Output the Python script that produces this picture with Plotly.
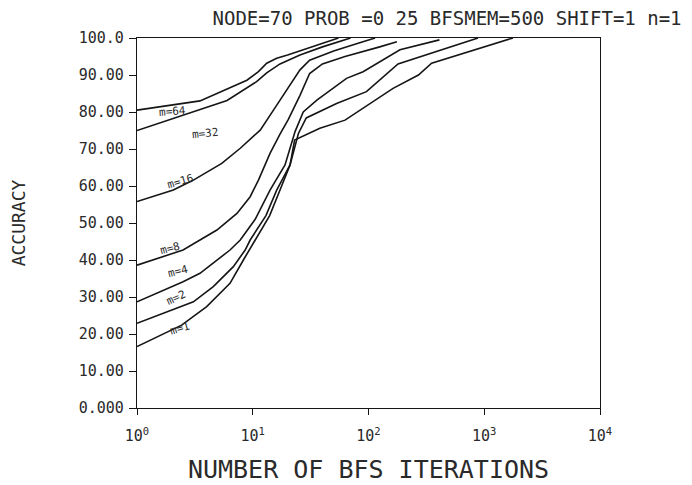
import plotly.graph_objects as go

# ---- data ----
n64 = [1, 3.5, 8.9, 11.2, 13.2, 16.1, 20, 30, 42, 55]
v64 = [80.5, 83.0, 88.6, 90.9, 93.2, 94.5, 95.4, 97.2, 98.8, 100]

n32 = [1, 6.0, 10.8, 13.2, 17.2, 25.6, 40, 70]
v32 = [75.0, 83.1, 88.2, 90.6, 93.0, 95.4, 97.6, 100]

n16 = [1, 2.06, 3.07, 5.4, 7.8, 11.6, 15.1, 19.7, 25.6, 31, 50, 80, 114]
v16 = [55.8, 58.9, 61.6, 66.1, 70.2, 75.1, 80.5, 85.9, 91.4, 94.0, 96.5, 98.5, 100]

n8 = [1, 2.5, 3.5, 4.9, 7.3, 9.5, 11.2, 14.1, 17.2, 20.3, 25.6, 31, 40, 62.7, 125, 176]
v8 = [38.6, 42.7, 45.4, 48.1, 52.6, 57.1, 61.6, 68.8, 74.0, 78.0, 84.5, 90.4, 93.0, 95.0, 97.6, 99.0]

n4 = [1, 2.5, 3.5, 6.36, 7.8, 10.5, 14.1, 19, 23.2, 27.3, 35.8, 64.6, 89.8, 187, 410]
v4 = [28.7, 34.1, 36.4, 42.7, 45.4, 51.0, 58.9, 65.7, 74.7, 80.0, 83.2, 89.1, 90.9, 96.8, 99.5]

n2 = [1, 3.07, 4.56, 6.8, 8.6, 9.5, 13, 16.1, 21, 24.8, 29, 53, 96, 180, 883]
v2 = [22.9, 28.7, 32.8, 38.2, 42.7, 45.4, 52.0, 58.9, 65.7, 74.2, 78.4, 82.3, 85.5, 93.0, 100]

n1 = [1, 2.43, 4.0, 6.36, 8.3, 10.5, 14, 17.2, 21, 23, 38, 62.7, 125, 163, 270, 351, 1770]
v1 = [16.6, 22.4, 27.4, 33.7, 40.0, 45.4, 52.0, 58.9, 65.7, 72.4, 75.6, 77.8, 84.1, 86.4, 90.0, 93.2, 100]

series_names = ["m=64", "m=32", "m=16", "m=8", "m=4", "m=2", "m=1"]
series_x = [n64, n32, n16, n8, n4, n2, n1]
series_y = [v64, v32, v16, v8, v4, v2, v1]

y_tickvals = [0, 10, 20, 30, 40, 50, 60, 70, 80, 90, 100]
y_ticktext = ["0.000", "10.00", "20.00", "30.00", "40.00", "50.00",
              "60.00", "70.00", "80.00", "90.00", "100.0"]
x_tickvals = [1, 10, 100, 1000, 10000]
x_ticktext = ["10<sup>0</sup>", "10<sup>1</sup>", "10<sup>2</sup>",
              "10<sup>3</sup>", "10<sup>4</sup>"]

title_text = "NODE=70 PROB =0 25 BFSMEM=500 SHIFT=1 n=1"
x_title = "NUMBER OF BFS ITERATIONS"
y_title = "ACCURACY"

FONT = "DejaVu Sans Mono"
INK = "#151515"
TXT = "#2a2a2a"

fig = go.Figure()
for name, xs, ys in zip(series_names, series_x, series_y):
    fig.add_trace(go.Scatter(x=xs, y=ys, mode="lines", name=name,
                             line=dict(color=INK, width=1.6),
                             showlegend=False, hoverinfo="skip"))

# curve labels (paper coordinates)
labels = [("m=64", 0.043, 0.827, -4), ("m=32", 0.112, 0.768, -6),
          ("m=16", 0.056, 0.613, -16), ("m=8", 0.041, 0.432, -14),
          ("m=4", 0.058, 0.368, -14), ("m=2", 0.054, 0.265, -24),
          ("m=1", 0.063, 0.184, -16)]
for txt, xp, yp, ang in labels:
    fig.add_annotation(text=txt, x=xp, y=yp, xref="paper", yref="paper",
                       showarrow=False, textangle=ang,
                       font=dict(family=FONT, size=11, color=TXT))

fig.update_layout(
    width=692, height=485,
    margin=dict(l=137, r=92, t=38, b=77, autoexpand=False),
    paper_bgcolor="white", plot_bgcolor="white",
    title=dict(text=title_text, x=0.646, xanchor="center", y=0.963, yanchor="middle",
               font=dict(family=FONT, size=19, color=TXT)),
    xaxis=dict(type="log", range=[0, 4], tickvals=x_tickvals, ticktext=x_ticktext,
               automargin=False,
               showgrid=False, zeroline=False, showline=True, linecolor=INK,
               linewidth=1.3, mirror=True, ticks="outside", ticklen=6,
               tickcolor=INK, tickwidth=1.3, ticklabelstandoff=8,
               tickfont=dict(family=FONT, size=15, color=TXT),
               title=dict(text=x_title, standoff=16,
                          font=dict(family=FONT, size=25, color=TXT))),
    yaxis=dict(range=[0, 100], tickvals=y_tickvals, ticktext=y_ticktext,
               automargin=False,
               showgrid=False, zeroline=False, showline=True, linecolor=INK,
               linewidth=1.3, mirror=True, ticks="outside", ticklen=7,
               tickcolor=INK, tickwidth=1.3, ticklabelstandoff=2,
               tickfont=dict(family=FONT, size=15, color=TXT),
               title=dict(text=y_title, standoff=48,
                          font=dict(family=FONT, size=18, color=TXT))),
)

fig.write_html("out.html")
